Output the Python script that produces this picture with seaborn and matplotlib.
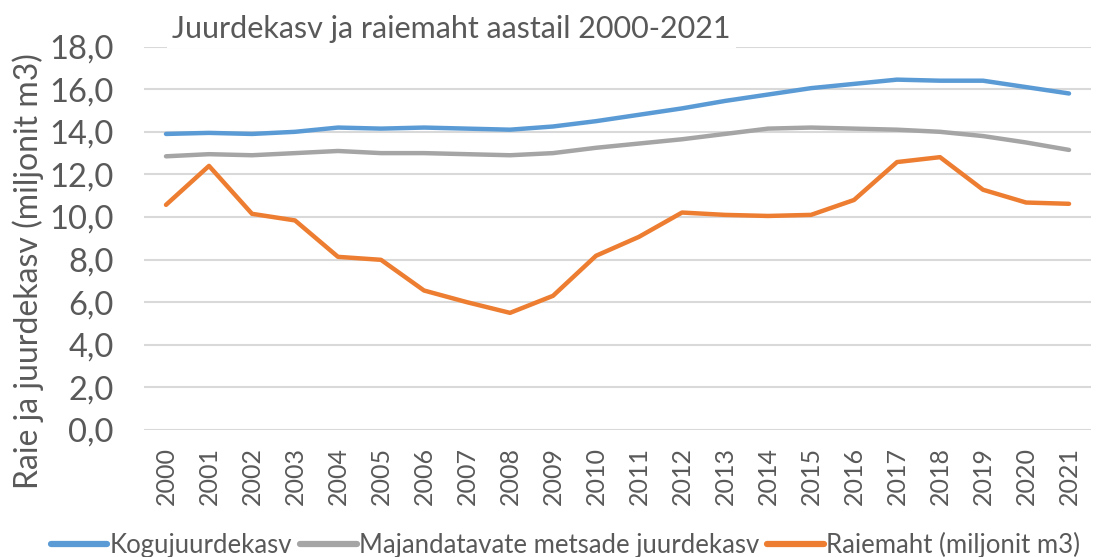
import pandas as pd
import matplotlib.pyplot as plt
import seaborn as sns

# Data (million m3)
years = [str(y) for y in range(2000, 2022)]
kogujuurdekasv = [13.9, 13.95, 13.9, 14.0, 14.2, 14.15, 14.2, 14.15, 14.1, 14.25, 14.5,
                  14.8, 15.1, 15.45, 15.75, 16.05, 16.25, 16.45, 16.4, 16.4, 16.1, 15.8]
majandatavad = [12.85, 12.95, 12.9, 13.0, 13.1, 13.0, 13.0, 12.95, 12.9, 13.0, 13.25,
                13.45, 13.65, 13.9, 14.15, 14.2, 14.15, 14.1, 14.0, 13.8, 13.5, 13.15]
raiemaht = [10.57, 12.4, 10.15, 9.84, 8.13, 7.99, 6.55, 6.0, 5.5, 6.3, 8.18,
            9.07, 10.21, 10.1, 10.05, 10.1, 10.8, 12.58, 12.81, 11.28, 10.68, 10.62]
series_names = ['Kogujuurdekasv', 'Majandatavate metsade juurdekasv', 'Raiemaht (miljonit m3)']
colors = ['#5B9BD5', '#A5A5A5', '#ED7D31']

df = pd.DataFrame({
    'idx': list(range(len(years))) * 3,
    'value': kogujuurdekasv + majandatavad + raiemaht,
    'series': [s for s in series_names for _ in years],
})

sns.set_style('white')
plt.rcParams['font.family'] = ['Lato', 'DejaVu Sans']
txt = '#595959'

fig = plt.figure(figsize=(10.98, 5.57), dpi=100)
ax = fig.add_axes([0.1316, 0.228, 0.8616, 0.6883])

sns.lineplot(data=df, x='idx', y='value', hue='series', palette=colors,
             linewidth=3.2, ax=ax, legend=True, solid_capstyle='round')
for ln in ax.get_lines():
    ln.set_clip_on(False)

ax.set_xlim(-0.5, len(years) - 0.5)
ax.set_ylim(0, 18)
ax.set_yticks([i * 2 for i in range(10)])
ax.set_yticklabels([f'{i * 2:.1f}'.replace('.', ',') for i in range(10)], fontsize=23.5, color=txt)
ax.set_xticks(range(len(years)))
ax.set_xticklabels(years, rotation=90, fontsize=18, color=txt)
ax.tick_params(axis='y', length=0, pad=22)
ax.tick_params(axis='x', length=0, pad=12)
ax.grid(axis='y', color='#D9D9D9', linewidth=1.5)
ax.set_axisbelow(True)
for s in ax.spines.values():
    s.set_visible(False)

ax.set_xlabel('')
ax.set_ylabel('Raie ja juurdekasv (miljonit m3)', fontsize=23, color=txt, va='center')
ax.yaxis.set_label_coords(-0.123, 0.415)

fig.text(0.157, 0.948, 'Juurdekasv ja raiemaht aastail 2000-2021', fontsize=22, color=txt,
         va='center', ha='left', bbox=dict(facecolor='white', edgecolor='none', pad=4))

handles, labels = ax.get_legend_handles_labels()
ax.legend(handles, labels, loc='center', bbox_to_anchor=(0.515, 0.022),
          bbox_transform=fig.transFigure, ncol=3, frameon=False, fontsize=18.5,
          handlelength=2.2, handletextpad=0.1, columnspacing=0.3, labelcolor=txt)
for h in ax.get_legend().get_lines():
    h.set_linewidth(4.5)

fig.savefig('out.png', dpi=100)
